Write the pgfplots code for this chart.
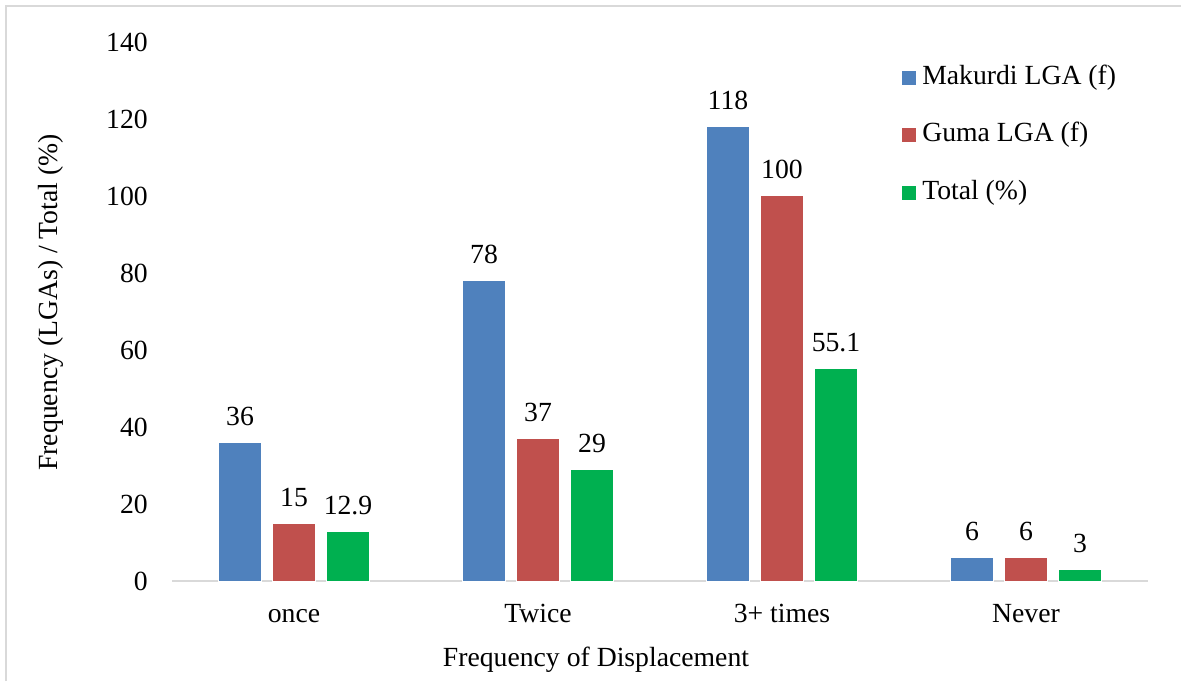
\documentclass[border=0pt]{standalone}
\usepackage{fontspec}
\setmainfont{Liberation Serif}
\usepackage{pgfplots}
\pgfplotsset{compat=1.18}
\definecolor{cblue}{RGB}{79,129,189}
\definecolor{cred}{RGB}{192,80,77}
\definecolor{cgreen}{RGB}{0,176,80}
\definecolor{axgray}{RGB}{217,217,217}
\begin{document}
\fontsize{27.7pt}{33pt}\selectfont
\begin{tikzpicture}[x=1pt,y=1pt]
\useasboundingbox (0,0) rectangle (1181,681);
\draw[axgray, line width=1.2pt] (6,0) -- (6,675) -- (1181,675);
\begin{axis}[
 at={(172pt,100pt)}, anchor=south west,
 scale only axis, width=976pt, height=539pt,
 xmin=-0.5, xmax=3.5, ymin=0, ymax=140,
 ybar=11pt, bar width=43pt,
 xtick={0,1,2,3}, xticklabels={once,Twice,3+ times,Never},
 ytick={0,20,...,140},
 axis x line*=bottom, axis y line*=left,
 x axis line style={-, draw=axgray, line width=2.5pt},
 y axis line style={draw=none},
 major tick length=0pt, tick style={draw=none},
 /pgf/number format/assume math mode=true,
 /pgf/number format/fixed,
 xticklabel style={anchor=base, inner sep=0pt, yshift=-41pt},
 yticklabel style={anchor=east, inner sep=0pt, xshift=-24pt},
 xlabel={Frequency of Displacement},
 ylabel={Frequency (LGAs) / Total (\%)},
 xlabel style={at={(axis description cs:0.4344,-0.159)}, anchor=base, inner sep=0pt},
 ylabel style={at={(axis description cs:-0.1178,0.5167)}, anchor=base, inner sep=0pt},
 clip=false,
 nodes near coords,
 every node near coord/.append style={anchor=base, inner sep=0pt, yshift=17pt, text=black},
 legend style={at={(axis description cs:0.748,0.9574)}, anchor=north west, draw=none, fill=none, inner sep=0pt,
   row sep=32.5pt, nodes={inner sep=0pt, text height=19pt, text depth=6pt},
   /tikz/every odd column/.append style={column sep=6pt}},
 legend cell align=left,
 legend image code/.code={\path[#1,draw=none] (0pt,-7pt) rectangle (14pt,7pt);},
]
\addplot[fill=cblue, draw=white, line width=1pt] coordinates {(0,36) (1,78) (2,118) (3,6)};
\addplot[fill=cred, draw=white, line width=1pt] coordinates {(0,15) (1,37) (2,100) (3,6)};
\addplot[fill=cgreen, draw=white, line width=1pt] coordinates {(0,12.9) (1,29) (2,55.1) (3,3)};
\legend{Makurdi LGA (f), Guma LGA (f), Total (\%)}
\end{axis}
\end{tikzpicture}
\end{document}
